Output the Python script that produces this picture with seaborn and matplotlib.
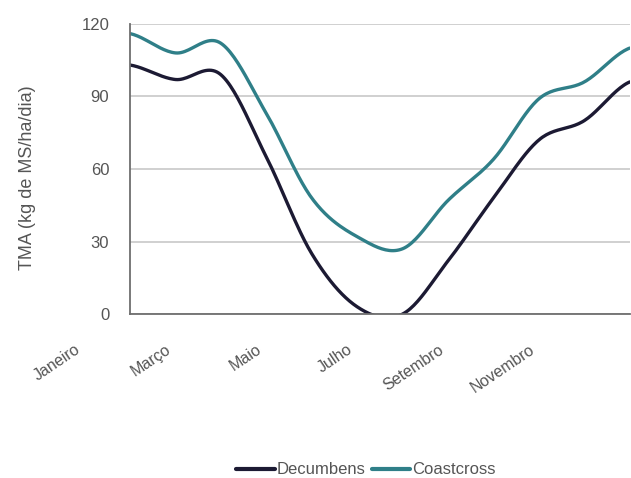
import numpy as np
import pandas as pd
import seaborn as sns
import matplotlib.pyplot as plt
from matplotlib.transforms import ScaledTranslation

# dados
meses = ['Janeiro', 'Fevereiro', 'Março', 'Abril', 'Maio', 'Junho',
         'Julho', 'Agosto', 'Setembro', 'Outubro', 'Novembro', 'Dezembro']
decumbens = [103, 97, 99, 65, 25, 3, 0, 22, 48, 72, 80, 96]
coastcross = [116, 108, 112, 83, 48, 32, 27, 47, 64, 89, 96, 110]
series = ['Decumbens', 'Coastcross']
cores = ['#1c1a33', '#2f7f88']
yticks = [0, 30, 60, 90, 120]


def suaviza(valores, n=24):
    '''linha suavizada (Catmull-Rom) passando pelos pontos, como no Excel'''
    p = np.r_[valores[0], valores, valores[-1]].astype(float)
    xs, ys = [], []
    for i in range(len(valores) - 1):
        p0, p1, p2, p3 = p[i:i + 4]
        t = np.linspace(0, 1, n, endpoint=False)
        y = 0.5 * (2 * p1 + (-p0 + p2) * t
                   + (2 * p0 - 5 * p1 + 4 * p2 - p3) * t ** 2
                   + (-p0 + 3 * p1 - 3 * p2 + p3) * t ** 3)
        xs.extend(i + t)
        ys.extend(y)
    xs.append(len(valores) - 1)
    ys.append(valores[-1])
    return np.array(xs), np.array(ys)


frames = []
for nome, vals in zip(series, [decumbens, coastcross]):
    x, y = suaviza(vals)
    frames.append(pd.DataFrame({'mes': x, 'TMA': y, 'Série': nome}))
df = pd.concat(frames, ignore_index=True)

sns.set_style('white')
plt.rcParams['font.family'] = ['Liberation Sans', 'DejaVu Sans']

fig = plt.figure(figsize=(6.31, 4.78), dpi=100)
ax = fig.add_axes([0.206, 0.343, 0.792, 0.607])

sns.lineplot(data=df, x='mes', y='TMA', hue='Série', palette=cores,
             linewidth=2.4, ax=ax, legend=False, sort=False)

ax.set_xlim(0, len(meses) - 1)
ax.set_ylim(0, 120)
ax.set_yticks(yticks)
ax.yaxis.grid(True, color='#c8c8c8', linewidth=1.2)
ax.set_axisbelow(True)
for s in ['top', 'right']:
    ax.spines[s].set_visible(False)
for s in ['left', 'bottom']:
    ax.spines[s].set_color('#6e6e6e')
    ax.spines[s].set_linewidth(1.3)

pos = list(range(0, len(meses), 2))
ax.set_xticks(pos)
ax.set_xticklabels([meses[i] for i in pos], rotation=34, ha='right',
                   rotation_mode='anchor')
ax.tick_params(axis='y', length=0, pad=15, labelsize=12, labelcolor='#555555')
ax.tick_params(axis='x', length=0, pad=20, labelsize=11.5, labelcolor='#555555')
desloc = ScaledTranslation(-40 / 72, 0, fig.dpi_scale_trans)
for lbl in ax.get_xticklabels():
    lbl.set_transform(lbl.get_transform() + desloc)

ax.set_xlabel('')
ax.set_ylabel('TMA (kg de MS/ha/dia)', fontsize=13, color='#555555')
ax.yaxis.set_label_coords(-0.188, 0.47)

handles = [plt.Line2D([], [], color=c, linewidth=3) for c in cores]
fig.legend(handles, series, loc='center', bbox_to_anchor=(0.58, 0.017),
           ncol=2, frameon=False, fontsize=12, handlelength=2.3,
           handletextpad=0.1, columnspacing=0.4, labelcolor='#555555')

fig.savefig('out.png', dpi=100)
